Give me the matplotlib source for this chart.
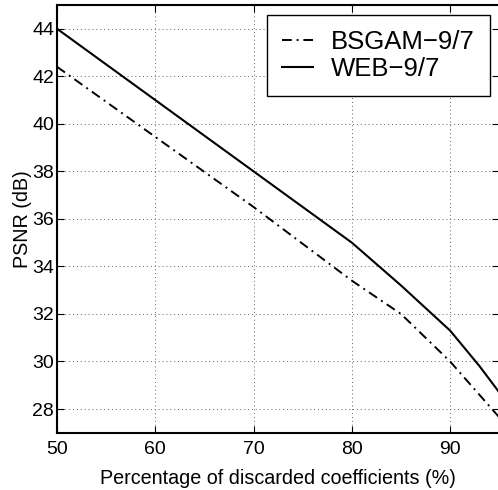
import matplotlib
matplotlib.use("Agg")
import matplotlib.pyplot as plt

plt.rcParams['font.family'] = ['Liberation Sans', 'DejaVu Sans']

# discarded coefficients (%) and PSNR (dB)
web_x = [50, 60, 70, 80, 85, 90, 93, 95]
web_y = [44.0, 41.0, 38.0, 35.0, 33.2, 31.3, 29.8, 28.7]
bsgam_x = [50, 60, 70, 80, 85, 90, 95]
bsgam_y = [42.4, 39.45, 36.5, 33.4, 32.0, 30.0, 27.65]

xticks = [50, 60, 70, 80, 90]
yticks = [28, 30, 32, 34, 36, 38, 40, 42, 44]

fig = plt.figure(figsize=(4.98, 4.90), dpi=100)
ax = fig.add_axes([0.1145, 0.1168, 0.888, 0.873])

ax.plot(bsgam_x, bsgam_y, color='black', lw=1.4, dashes=(5, 2.5, 1, 2.5),
        label='BSGAM\u22129/7')
ax.plot(web_x, web_y, '-', color='black', lw=1.5, label='WEB\u22129/7')

ax.set_xlim(50, 95)
ax.set_ylim(27, 45)
ax.set_xticks(xticks)
ax.set_yticks(yticks)
ax.tick_params(direction='in', top=True, right=True, labelsize=14, length=5)
ax.tick_params(axis='x', pad=6)
ax.tick_params(axis='y', pad=2)
ax.grid(True, color='#666666', lw=0.7, dashes=(1, 3))
for s in ax.spines.values():
    s.set_linewidth(1.5)

ax.set_xlabel('Percentage of discarded coefficients (%)', fontsize=14.2, labelpad=8)
ax.set_ylabel('PSNR (dB)', fontsize=14.2, labelpad=0)

leg = ax.legend(loc='upper right', bbox_to_anchor=(0.98, 0.977), borderaxespad=0,
                fontsize=18.5, handlelength=1.2, handletextpad=0.7, labelspacing=0.1,
                fancybox=False, edgecolor='black', framealpha=1, borderpad=0.6)
leg.get_frame().set_linewidth(1.0)

fig.savefig('out.png', dpi=100)
